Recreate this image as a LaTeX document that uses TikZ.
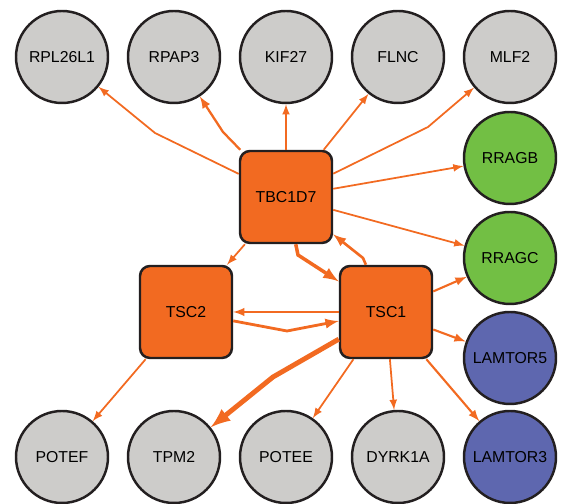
\documentclass[tikz,border=0pt]{standalone}
\usepackage{fontspec}
\setmainfont{Liberation Sans}
\usepackage{tikz}
\definecolor{hubor}{HTML}{F26A21}
\definecolor{genegray}{HTML}{CDCCCA}
\definecolor{raggreen}{HTML}{72BF44}
\definecolor{lamblue}{HTML}{5E67AF}
\definecolor{rim}{HTML}{231F20}
\tikzset{
  gene/.style={circle,draw=rim,line width=1.4pt,fill=genegray,minimum size=1.84cm,inner sep=0pt,font=\fontsize{9}{10}\selectfont},
  hub/.style={rectangle,rounded corners=0.2cm,draw=rim,line width=1.4pt,fill=hubor,minimum size=1.84cm,inner sep=0pt,font=\fontsize{9}{10}\selectfont},
  link/.style={-latex,draw=hubor,line width=1pt}
}
\begin{document}
\begin{tikzpicture}
\useasboundingbox (0,0) rectangle (11.22,10.08);
  % top row
  \node[gene] (rpl) at (1.24,8.94) {RPL26L1};
  \node[gene] (rpap) at (3.48,8.94) {RPAP3};
  \node[gene] (kif) at (5.72,8.94) {KIF27};
  \node[gene] (flnc) at (7.96,8.94) {FLNC};
  \node[gene] (mlf) at (10.2,8.94) {MLF2};
  % right column
  \node[gene,fill=raggreen] (rragb) at (10.2,6.92) {RRAGB};
  \node[gene,fill=raggreen] (rragc) at (10.2,4.92) {RRAGC};
  \node[gene,fill=lamblue] (lam5) at (10.2,2.92) {LAMTOR5};
  % bottom row
  \node[gene] (potef) at (1.24,0.94) {POTEF};
  \node[gene] (tpm) at (3.48,0.94) {TPM2};
  \node[gene] (potee) at (5.72,0.94) {POTEE};
  \node[gene] (dyrk) at (7.96,0.94) {DYRK1A};
  \node[gene,fill=lamblue] (lam3) at (10.2,0.94) {LAMTOR3};
  % complex
  \node[hub] (tbc) at (5.72,6.14) {TBC1D7};
  \node[hub] (tsc2) at (3.72,3.84) {TSC2};
  \node[hub] (tsc1) at (7.72,3.84) {TSC1};

  \draw[link] (tbc) -- (3.1,7.42) -- (rpl);
  \draw[link,line width=1.3pt] (tbc) -- (4.46,7.44) -- (rpap);
  \draw[link] (tbc) -- (kif);
  \draw[link] (tbc) -- (flnc);
  \draw[link] (tbc) -- (8.56,7.54) -- (mlf);
  \draw[link] (tbc) -- (rragb);
  \draw[link] (tbc) -- (rragc);
  \draw[link] (tbc) -- (tsc2);
  \draw[link,line width=2pt] (tbc) -- (5.96,4.98) -- (tsc1);
  \draw[link,line width=1.5pt] (tsc1) -- (7.26,4.92) -- (tbc);
  \draw[link,line width=1.2pt] (tsc1) -- (tsc2);
  \draw[link,line width=1.6pt] (tsc2) -- (5.74,3.46) -- (tsc1);
  \draw[link] (tsc2) -- (potef);
  \draw[link,line width=2.8pt] (tsc1) -- (5.46,2.54) -- (tpm);
  \draw[link] (tsc1) -- (potee);
  \draw[link] (tsc1) -- (dyrk);
  \draw[link,line width=1.2pt] (tsc1) -- (lam3);
  \draw[link,line width=1.2pt] (tsc1) -- (rragc);
  \draw[link,line width=1.2pt] (tsc1) -- (lam5);
\end{tikzpicture}
\end{document}
